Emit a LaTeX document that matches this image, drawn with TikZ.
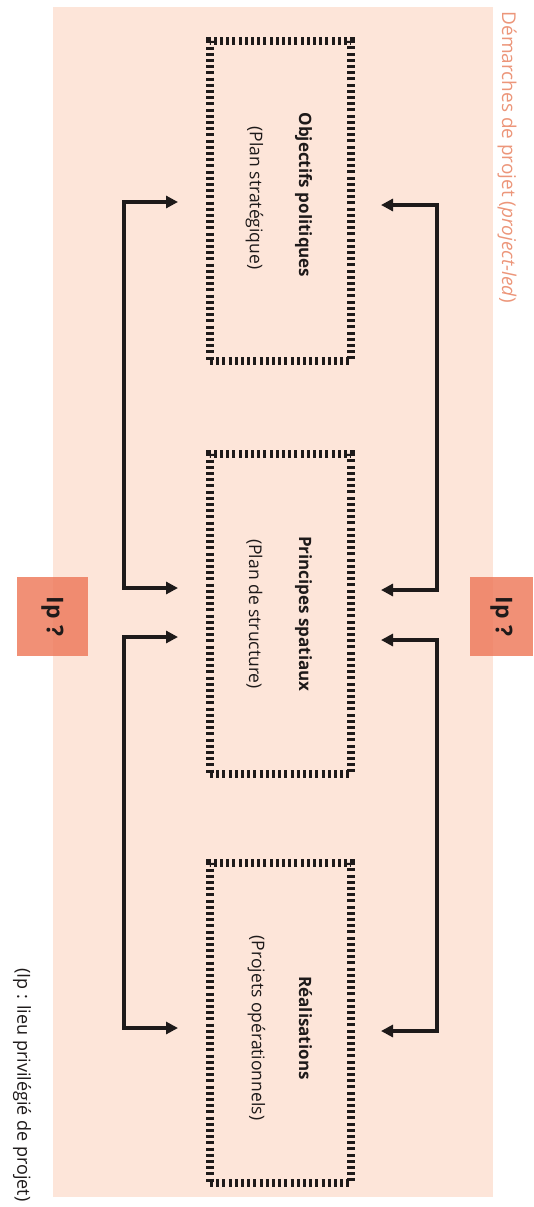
\documentclass[tikz,border=0pt]{standalone}
\usepackage{fontspec}
\setmainfont{Open Sans}
\usetikzlibrary{arrows.meta,calc,positioning}
\definecolor{fondpeche}{RGB}{253,229,217}
\definecolor{saumon}{RGB}{238,124,94}
\definecolor{saumonclair}{RGB}{236,150,122}
\definecolor{encre}{RGB}{30,26,26}
\tikzset{
  cadre/.style={
    draw=encre,
    line width=8pt,
    dash pattern=on 3pt off 3.2pt,
    minimum width=141pt,
    minimum height=320pt,
    inner sep=0pt,
    outer sep=0pt
  },
  titre/.style={
    rotate=-90,
    text=encre,
    font=\fontsize{17}{20}\selectfont\bfseries
  },
  soustitre/.style={
    rotate=-90,
    text=encre,
    font=\fontsize{17.5}{20}\selectfont
  },
  lieu/.style={
    rotate=-90,
    fill=saumon,
    fill opacity=.85,
    text opacity=1,
    text=encre,
    minimum width=79pt,
    minimum height=71pt,
    inner sep=0pt,
    font=\fontsize{23}{26}\selectfont\bfseries
  },
  fleche/.style={
    {Triangle[length=12pt,width=12pt]}-{Triangle[length=12pt,width=12pt]},
    line width=3.2pt,
    encre
  }
}

\begin{document}
\begin{tikzpicture}[x=1pt,y=-1pt]
\useasboundingbox (0,0) rectangle (533,1207);
\fill[fondpeche] (53,7) rectangle (493,1197);

% les trois cadres
\node[cadre] (obj) at (280.5,201) {};
\node[cadre] (pri) at (280.5,614) {};
\node[cadre] (rea) at (280.5,1023) {};

\node[titre] (obj-t) at ($(obj)+(23,-6)$) {Objectifs politiques};
\node[soustitre] (obj-s) at ($(obj)+(-26,-3)$) {(Plan stratégique)};
\node[titre] (pri-t) at ($(pri)+(23,0)$) {Principes spatiaux};
\node[soustitre] (pri-s) at ($(pri)+(-26,0)$) {(Plan de structure)};
\node[titre] (rea-t) at ($(rea)+(25,5)$) {Réalisations};
\node[soustitre] (rea-s) at ($(rea)+(-24,5)$) {(Projets opérationnels)};

% lieux privilegies
\node[lieu] (lp-g) at (52.5,616.5) {Ip ?};
\node[lieu,minimum height=63pt] (lp-d) at (501.5,616.5) {Ip ?};

% boucles
\draw[fleche] ($(obj.west)+(-32,1)$) -- ++(-54,0) |- ($(pri.west)+(-32,-26)$);
\draw[fleche] ($(pri.west)+(-32,23)$) -- ++(-54,0) |- ($(rea.west)+(-32,5)$);
\draw[fleche] ($(obj.east)+(30,4)$) -- ++(56,0) |- ($(pri.east)+(30,-24)$);
\draw[fleche] ($(pri.east)+(30,26)$) -- ++(56,0) |- ($(rea.east)+(30,8)$);

\node[rotate=-90,anchor=west,text=saumonclair,font=\fontsize{19}{22}\selectfont] (demarche) at (507,8) {Démarches de projet (\textit{project-led})};
\node[rotate=-90,anchor=east,text=encre,font=\fontsize{18}{20}\selectfont] (note) at (22,1205) {(Ip : lieu privilégié de projet)};
\end{tikzpicture}
\end{document}
